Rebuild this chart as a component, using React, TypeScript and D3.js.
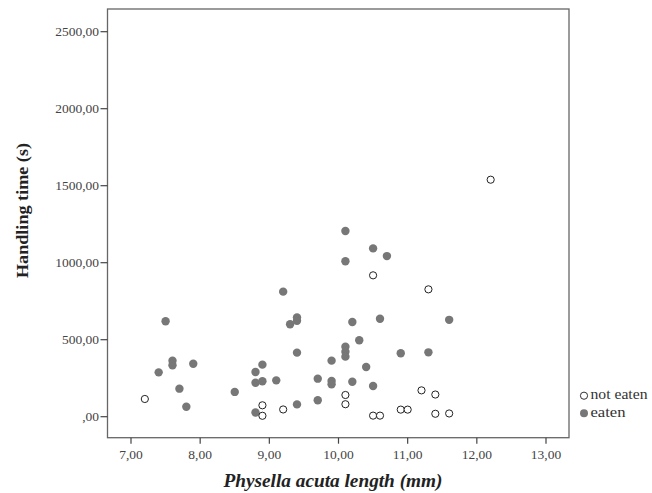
import React from "react";
import * as d3 from "d3";

const eatenX = [7.4, 7.5, 7.6, 7.6, 7.7, 7.8, 7.9, 8.5, 8.8, 8.8, 8.8, 8.9, 8.9, 9.1, 9.2, 9.3, 9.4, 9.4, 9.4, 9.4, 9.7, 9.7, 9.9, 9.9, 9.9, 10.1, 10.1, 10.1, 10.1, 10.1, 10.2, 10.2, 10.3, 10.4, 10.5, 10.5, 10.6, 10.7, 10.9, 11.3, 11.6];
const eatenY = [288, 620, 364, 334, 182, 65, 344, 161, 290, 220, 27, 338, 230, 236, 812, 600, 645, 623, 416, 80, 247, 107, 364, 232, 210, 1206, 1009, 455, 422, 390, 615, 227, 496, 323, 1093, 199, 636, 1043, 412, 418, 629];
const notEatenX = [7.2, 8.9, 8.9, 9.2, 10.1, 10.1, 10.5, 10.5, 10.6, 10.9, 11.0, 11.2, 11.3, 11.4, 11.4, 11.6, 12.2];
const notEatenY = [115, 74, 6, 47, 141, 81, 918, 7, 7, 46, 46, 171, 827, 144, 19, 21, 1539];

const xTicks = [7, 8, 9, 10, 11, 12, 13];
const yTicks = [0, 500, 1000, 1500, 2000, 2500];
const legendLabels = ["not eaten", "eaten"];

const fmt = (v: number) => {
  const s = v.toFixed(2).replace(".", ",");
  return s.startsWith("0,") ? s.slice(1) : s;
};

export default function App() {
  const x = d3.scaleLinear().domain([7, 13]).range([131, 546]);
  const y = d3.scaleLinear().domain([0, 2500]).range([416.7, 31.7]);
  const left = 107.5, right = 569, top = 9, bottom = 437.7;
  const font = "'Liberation Serif', 'Times New Roman', serif";
  const eaten = eatenX.map((v, i) => [v, eatenY[i]]);
  const notEaten = notEatenX.map((v, i) => [v, notEatenY[i]]);
  return (
    <svg width={652} height={493} style={{ position: "absolute", left: 0, top: 0 }} fontFamily={font}>
      <rect x={0} y={0} width={652} height={493} fill="#fff" />
      <rect x={left} y={top} width={right - left} height={bottom - top} fill="none" stroke="#666" strokeWidth={1.3} />
      {yTicks.map((t) => (
        <g key={"y" + t}>
          <line x1={left - 7} x2={left} y1={y(t)} y2={y(t)} stroke="#444" strokeWidth={1.2} />
          <text x={left - 8.5} y={y(t)} dy="0.33em" textAnchor="end" fontSize={13.5} fill="#444">{fmt(t)}</text>
        </g>
      ))}
      {xTicks.map((t) => (
        <g key={"x" + t}>
          <line x1={x(t)} x2={x(t)} y1={bottom} y2={bottom + 6} stroke="#444" strokeWidth={1.2} />
          <text x={x(t)} y={458.5} textAnchor="middle" fontSize={13.5} fill="#444">{fmt(t)}</text>
        </g>
      ))}
      {eaten.map((d, i) => (
        <circle key={"e" + i} cx={x(d[0])} cy={y(d[1])} r={4.2} fill="#777" />
      ))}
      {notEaten.map((d, i) => (
        <circle key={"n" + i} cx={x(d[0])} cy={y(d[1])} r={3.6} fill="#fff" stroke="#222" strokeWidth={1} />
      ))}
      <text transform="translate(27.5,210.5) rotate(-90)" textAnchor="middle" fontSize={17.5} fontWeight="bold" fill="#222" textLength={135} lengthAdjust="spacingAndGlyphs">Handling time (s)</text>
      <text x={333} y={487} textAnchor="middle" fontSize={18.5} fontWeight="bold" fontStyle="italic" fill="#222" textLength={219} lengthAdjust="spacingAndGlyphs">Physella acuta length (mm)</text>
      <circle cx={584} cy={395.7} r={3.6} fill="#fff" stroke="#333" strokeWidth={1} />
      <text x={590.5} y={399.3} fontSize={14} fill="#333" textLength={57} lengthAdjust="spacingAndGlyphs">{legendLabels[0]}</text>
      <circle cx={584} cy={413.3} r={4} fill="#777" />
      <text x={590.5} y={417.3} fontSize={14} fill="#333" textLength={35} lengthAdjust="spacingAndGlyphs">{legendLabels[1]}</text>
    </svg>
  );
}
